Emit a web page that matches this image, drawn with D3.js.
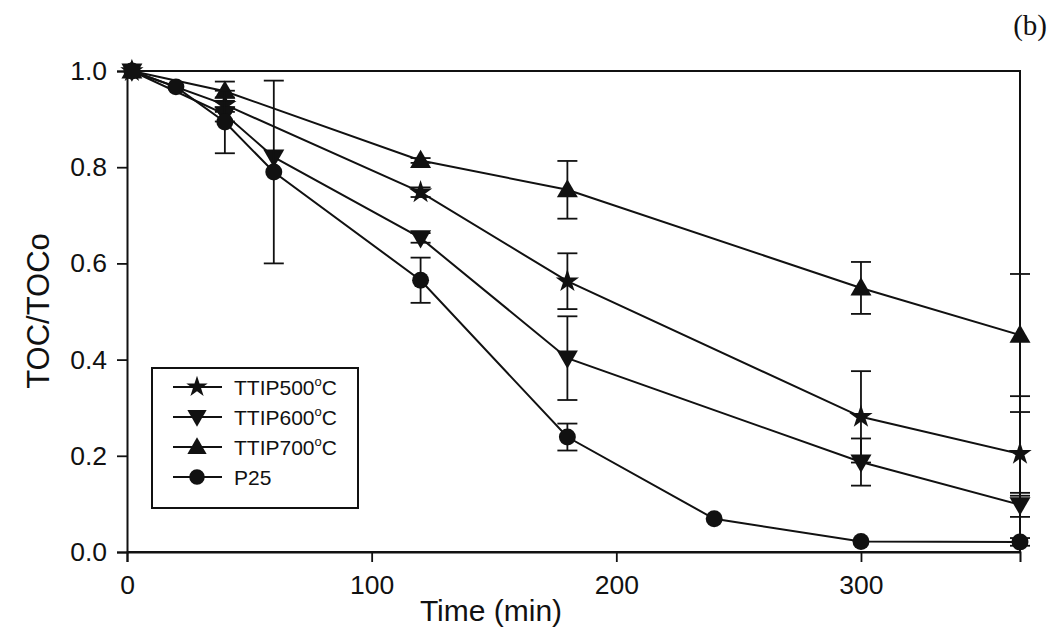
<!DOCTYPE html>
<html><head><meta charset="utf-8">
<script src="https://cdn.jsdelivr.net/npm/d3@7"></script>
<style>body{margin:0;background:#fff}svg{display:block}</style>
</head><body>
<svg id="c" width="1058" height="638"></svg>
<script>
const xTicks = [0, 100, 200, 300];
const yTicks = [0.0, 0.2, 0.4, 0.6, 0.8, 1.0];

const t500 = [2, 40, 120, 180, 300, 365];
const v500 = [1.0, 0.93, 0.748, 0.563, 0.281, 0.204];
const e500 = [0, 0.015, 0.01, 0.058, 0.095, 0.087];

const t600 = [2, 40, 60, 120, 180, 300, 365];
const v600 = [1.0, 0.91, 0.821, 0.653, 0.403, 0.187, 0.098];
const e600 = [0, 0.015, 0, 0.01, 0.087, 0.049, 0.025];

const t700 = [2, 40, 120, 180, 300, 365];
const v700 = [1.0, 0.958, 0.814, 0.753, 0.549, 0.451];
const e700 = [0, 0.02, 0.005, 0.06, 0.054, 0.127];

const tP25 = [2, 20, 40, 60, 120, 180, 240, 300, 365];
const vP25 = [1.0, 0.967, 0.894, 0.79, 0.565, 0.239, 0.069, 0.022, 0.021];
const eP25 = [0, 0, 0.065, 0.19, 0.047, 0.028, 0, 0, 0.008];

const seriesNames = ["TTIP500", "TTIP600", "TTIP700", "P25"];

const series = [
  {name: seriesNames[0], t: t500, v: v500, e: e500, sym: "star"},
  {name: seriesNames[1], t: t600, v: v600, e: e600, sym: "down"},
  {name: seriesNames[2], t: t700, v: v700, e: e700, sym: "up"},
  {name: seriesNames[3], t: tP25, v: vP25, e: eP25, sym: "circle"}
];

const svg = d3.select("#c");
const L = 127, R = 1020, T = 71, B = 552;
const x = d3.scaleLinear().domain([0, 365]).range([L, R]);
const y = d3.scaleLinear().domain([0, 1]).range([B, T]);
const font = "'Liberation Sans', Arial, sans-serif";

svg.append("path").attr("d", `M${L},${T}H${R}V${B}`).attr("fill", "none").attr("stroke", "#111").attr("stroke-width", 2);

const xAxis = svg.append("g").attr("transform", `translate(0,${B})`)
  .call(d3.axisBottom(x).tickValues(xTicks).tickSize(10).tickPadding(13).tickFormat(d3.format("d")));
const yAxis = svg.append("g").attr("transform", `translate(${L},0)`)
  .call(d3.axisLeft(y).tickValues(yTicks).tickSize(10).tickPadding(10).tickFormat(d3.format(".1f")));
[xAxis, yAxis].forEach(g => {
  g.select(".domain").attr("stroke", "#111").attr("stroke-width", 2);
  g.selectAll(".tick line").attr("stroke", "#111").attr("stroke-width", 1.8);
  g.selectAll("text").attr("font-family", font).attr("font-size", 26.5).attr("fill", "#111");
});
svg.append("line").attr("x1", L).attr("x2", R).attr("y1", B).attr("y2", B).attr("stroke", "#111").attr("stroke-width", 2);

function symPath(s, size) {
  if (s === "star") return d3.symbol(d3.symbolStar, size * 0.75)();
  if (s === "circle") return d3.symbol(d3.symbolCircle, size)();
  return d3.symbol(d3.symbolTriangle, size * 0.85)();
}
function symTransform(s, px, py) {
  let tr = `translate(${px},${py + (s === "up" ? 1.5 : s === "down" ? -1.5 : 0)})`;
  if (s === "down") tr += " rotate(180)";
  return tr;
}

const line = d3.line().x(d => x(d[0])).y(d => y(d[1]));
series.forEach(s => {
  const pts = s.t.map((t, i) => [t, s.v[i], s.e[i]]);
  svg.append("path").attr("d", line(pts)).attr("fill", "none").attr("stroke", "#111").attr("stroke-width", 2);
  const eb = svg.append("g");
  pts.filter(p => p[2] > 0).forEach(p => {
    const px = x(p[0]), y1 = y(p[1] + p[2]), y2 = y(p[1] - p[2]);
    eb.append("line").attr("x1", px).attr("x2", px).attr("y1", y1).attr("y2", y2).attr("stroke", "#111").attr("stroke-width", 1.8);
    [y1, y2].forEach(yy => eb.append("line").attr("x1", px - 10).attr("x2", px + 10).attr("y1", yy).attr("y2", yy).attr("stroke", "#111").attr("stroke-width", 1.8));
  });
  svg.append("g").selectAll("path").data(pts).join("path")
    .attr("d", symPath(s.sym, 225))
    .attr("transform", d => symTransform(s.sym, x(d[0]), y(d[1])))
    .attr("fill", "#111");
});

// legend
const lg = svg.append("g");
lg.append("rect").attr("x", 152).attr("y", 368).attr("width", 206).attr("height", 140)
  .attr("fill", "#fff").attr("stroke", "#111").attr("stroke-width", 2);
const legendLabels = ["TTIP500", "TTIP600", "TTIP700", "P25"];
series.forEach((s, i) => {
  const ry = 387 + i * 30;
  lg.append("line").attr("x1", 173).attr("x2", 222).attr("y1", ry).attr("y2", ry).attr("stroke", "#111").attr("stroke-width", 2);
  lg.append("path").attr("d", symPath(s.sym, 190)).attr("transform", symTransform(s.sym, 197, ry)).attr("fill", "#111");
  const tx = lg.append("text").attr("x", 234).attr("y", ry + 8).attr("font-family", font).attr("font-size", 21).attr("fill", "#111");
  tx.append("tspan").text(legendLabels[i]);
  if (i < 3) {
    tx.append("tspan").attr("dy", -9).attr("font-size", 13).text("o");
    tx.append("tspan").attr("dy", 9).text("C");
  }
});

// axis titles
svg.append("text").attr("x", 491).attr("y", 621).attr("text-anchor", "middle")
  .attr("font-family", font).attr("font-size", 30).attr("fill", "#111").text("Time (min)");
svg.append("text").attr("transform", "translate(49,311) rotate(-90)").attr("text-anchor", "middle")
  .attr("font-family", font).attr("font-size", 31).attr("fill", "#111").text("TOC/TOCo");

svg.append("text").attr("x", 1047).attr("y", 35).attr("text-anchor", "end")
  .attr("font-family", "'Liberation Serif', 'Times New Roman', serif").attr("font-size", 29).attr("fill", "#111").text("(b)");
</script>
</body></html>
